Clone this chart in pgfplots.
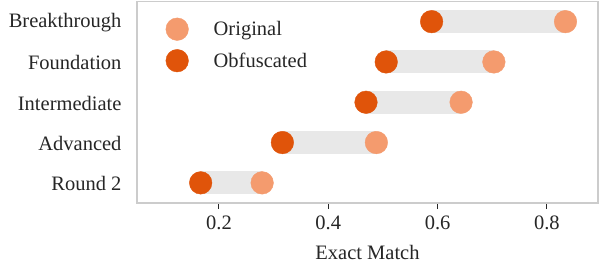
\documentclass[border=0pt]{standalone}
\usepackage{fontspec}
\setmainfont{Liberation Serif}
\usepackage{pgfplots}
\pgfplotsset{compat=1.18}
\definecolor{origc}{RGB}{244,155,110}
\definecolor{obfc}{RGB}{224,84,10}
\definecolor{barc}{RGB}{232,232,232}
\definecolor{framec}{RGB}{204,204,204}
\definecolor{textc}{RGB}{38,38,38}
\newcommand{\ff}{\fontsize{20.5bp}{24bp}\selectfont}
\begin{document}
\begin{tikzpicture}
\begin{axis}[
  scale only axis, width=461bp, height=201.5bp,
  xmin=0.05, xmax=0.8935, ymin=-0.5, ymax=4.5,
  axis line style={framec, line width=1.2bp},
  xtick={0.2,0.4,0.6,0.8},
  xticklabels={0.2,0.4,0.6,0.8},
  ytick={0,1,2,3,4},
  yticklabels={Round 2,Advanced,Intermediate,Foundation,Breakthrough},
  xtick pos=bottom, ytick pos=left,
  tick align=outside,
  xtick style={textc, line width=1bp},
  ytick style={draw=none},
  major tick length=6bp,
  xticklabel style={font=\ff, text=textc, yshift=-3bp},
  yticklabel style={font=\ff, text=textc, xshift=-6bp, yshift=-1bp},
  xlabel={Exact Match},
  xlabel style={font=\ff, text=textc, yshift=-9bp},
  /pgf/number format/assume math mode=true,
  legend style={at={(axis description cs:0,1)}, anchor=north west, draw=none, fill=none,
    xshift=25.5bp, yshift=-14bp,
    font=\ff, text=textc, row sep=8.5bp,
    /tikz/every odd column/.append style={column sep=23bp}},
  legend cell align=left,
  clip=false,
]
\addplot[barc, line width=23bp, forget plot] coordinates {(0.589,4) (0.834,4)};
\addplot[barc, line width=23bp, forget plot] coordinates {(0.506,3) (0.703,3)};
\addplot[barc, line width=23bp, forget plot] coordinates {(0.469,2) (0.643,2)};
\addplot[barc, line width=23bp, forget plot] coordinates {(0.316,1) (0.488,1)};
\addplot[barc, line width=23bp, forget plot] coordinates {(0.1665,0) (0.279,0)};
\addplot[origc, only marks, mark=*, mark size=11.3bp, mark options={draw=none, fill=origc},
  legend image code/.code={\fill[origc] (0bp,0bp) circle (11.3bp);}]
  coordinates {(0.834,4) (0.703,3) (0.643,2) (0.488,1) (0.279,0)};
\addlegendentry{Original}
\addplot[obfc, only marks, mark=*, mark size=11.3bp, mark options={draw=none, fill=obfc},
  legend image code/.code={\fill[obfc] (0bp,0bp) circle (11.3bp);}]
  coordinates {(0.589,4) (0.506,3) (0.469,2) (0.316,1) (0.1665,0)};
\addlegendentry{Obfuscated}
\end{axis}
\path (-137bp,-63bp) rectangle (462bp,203bp);
\end{tikzpicture}
\end{document}
